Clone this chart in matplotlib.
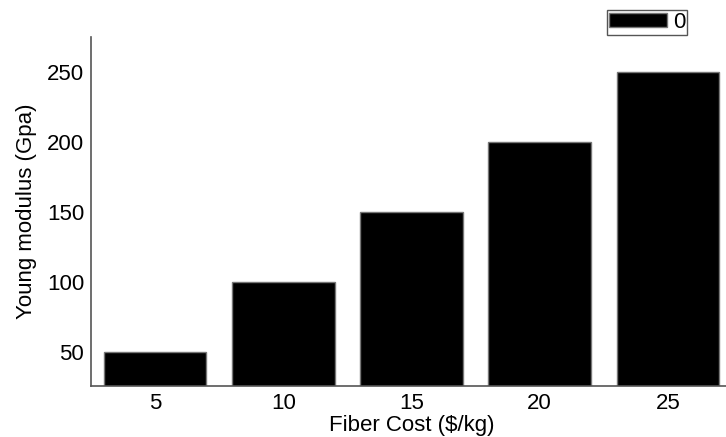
import matplotlib
matplotlib.use("Agg")
import matplotlib.pyplot as plt

plt.rcParams["font.family"] = ["Liberation Sans", "DejaVu Sans"]
plt.rcParams["font.size"] = 16

fiber_cost = ["5", "10", "15", "20", "25"]
young_modulus = [50, 100, 150, 200, 250]
series_name = "0"

fig = plt.figure(figsize=(7.26, 4.37), dpi=100)
# axes runs a bit past the right edge of the figure, like the original
ax = fig.add_axes([91 / 726, (437 - 386) / 437, 641 / 726, (386 - 37) / 437])

ax.bar(range(len(fiber_cost)), young_modulus, width=0.8, color="black",
       edgecolor="#777777", linewidth=1, label=series_name)

ax.set_xticks(range(len(fiber_cost)))
ax.set_xticklabels(fiber_cost)
ax.set_xlim(-0.5, len(fiber_cost) - 0.5)
ax.set_ylim(25.5, 275)
ax.set_yticks([50, 100, 150, 200, 250])

ax.set_xlabel("Fiber Cost ($/kg)", labelpad=1)
ax.set_ylabel("Young modulus (Gpa)", labelpad=7)

for side in ["top", "right"]:
    ax.spines[side].set_visible(False)
for side in ["left", "bottom"]:
    ax.spines[side].set_color("#555555")
    ax.spines[side].set_linewidth(1.2)
ax.tick_params(length=0, pad=5)

leg = fig.legend(loc="upper left", bbox_to_anchor=(607 / 726, 1 - 10 / 437),
                 fancybox=False, framealpha=1, edgecolor="#555555",
                 borderpad=0.08, handlelength=2.6, handleheight=0.65,
                 handletextpad=0.3, borderaxespad=0)
leg.get_frame().set_linewidth(1.0)

fig.savefig("out.png", dpi=100)
